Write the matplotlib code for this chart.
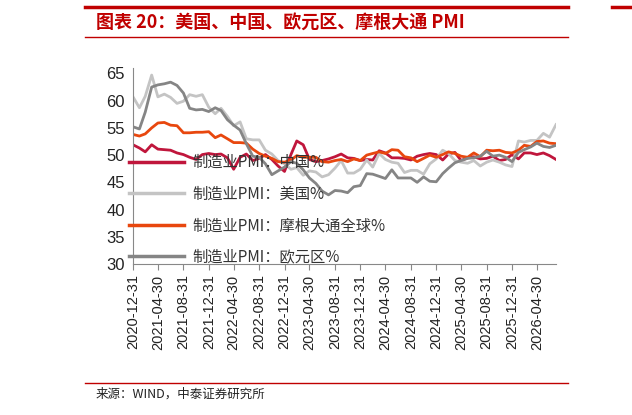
import matplotlib
matplotlib.use("Agg")
import matplotlib.pyplot as plt
from matplotlib.lines import Line2D
import pandas as pd

plt.rcParams['font.family'] = ['Noto Sans CJK SC', 'DejaVu Sans']

months = pd.date_range("2020-12-31", periods=68, freq="ME")

china = [51.9, 51.3, 50.6, 51.9, 51.1, 51.0, 50.9, 50.4, 50.1, 49.6, 49.2, 50.1,
         50.3, 50.1, 50.2, 49.5, 47.4, 49.6, 50.2, 49.0, 49.4, 50.1, 49.2, 48.0,
         47.0, 50.1, 52.6, 51.9, 49.2, 48.8, 49.0, 49.3, 49.7, 50.2, 49.5, 49.4,
         49.0, 49.2, 49.1, 50.8, 50.4, 49.5, 49.5, 49.4, 49.1, 49.8, 50.1, 50.3,
         50.1, 49.1, 50.2, 50.5, 49.0, 49.5, 49.7, 49.3, 49.4, 49.8, 49.0, 49.2,
         50.1, 49.3, 50.4, 50.4, 50.1, 50.4, 49.9, 49.2]
usa = [60.7, 58.7, 60.8, 64.7, 60.7, 61.2, 60.6, 59.5, 59.9, 61.1, 60.8, 61.1,
       58.8, 57.6, 58.6, 57.1, 55.4, 56.1, 53.0, 52.8, 52.8, 50.9, 50.2, 49.0,
       48.4, 47.4, 47.7, 46.3, 47.1, 46.9, 46.0, 46.4, 47.6, 49.0, 46.7, 46.7,
       47.4, 49.1, 47.8, 50.3, 49.2, 48.7, 48.5, 46.8, 47.2, 47.2, 46.5, 48.4,
       49.3, 50.9, 50.3, 49.0, 48.7, 48.5, 49.0, 48.0, 48.7, 49.1, 48.7, 48.2,
       47.9, 52.6, 52.4, 52.7, 52.7, 54.0, 53.3, 55.6]
jpm = [53.8, 53.5, 53.9, 55.0, 55.9, 56.0, 55.5, 55.4, 54.1, 54.1, 54.2, 54.2,
       54.3, 53.2, 53.7, 53.0, 52.3, 52.3, 52.2, 51.1, 50.3, 49.8, 49.4, 48.8,
       48.7, 49.1, 49.9, 49.6, 49.6, 49.6, 48.8, 48.7, 49.0, 49.2, 48.8, 49.3,
       49.0, 50.0, 50.3, 50.6, 50.3, 51.0, 50.9, 49.7, 49.5, 48.8, 49.4, 50.0,
       49.6, 50.1, 50.6, 50.3, 49.8, 49.6, 50.4, 49.7, 50.9, 50.8, 50.9, 50.5,
       50.4, 50.9, 51.8, 51.6, 52.5, 52.6, 52.2, 52.1]
euro = [55.2, 54.8, 57.9, 62.5, 62.9, 63.1, 63.4, 62.8, 61.4, 58.6, 58.3, 58.4,
        58.0, 58.7, 58.2, 56.5, 55.5, 54.6, 52.1, 49.8, 49.6, 48.4, 46.4, 47.1,
        47.8, 48.8, 48.5, 47.3, 45.8, 44.8, 43.4, 42.7, 43.5, 43.4, 43.1, 44.2,
        44.4, 46.6, 46.5, 46.1, 45.7, 47.3, 45.8, 45.8, 45.8, 45.0, 46.0, 45.2,
        45.1, 46.6, 47.6, 48.6, 49.0, 49.4, 49.5, 49.8, 50.7, 49.8, 50.0, 49.6,
        48.8, 50.5, 51.0, 51.5, 52.2, 51.6, 51.4, 51.8]

labels = ["制造业PMI：中国%", "制造业PMI：美国%", "制造业PMI：摩根大通全球%", "制造业PMI：欧元区%"]
colors = ["#c0163c", "#c4c4c4", "#e8470e", "#858585"]

fig = plt.figure(figsize=(6.32, 4.15), dpi=100)
ax = fig.add_axes([133 / 632, 1 - 264 / 415, 423 / 632, 196 / 415])

for vals, c in zip([china, usa, jpm, euro], colors):
    ax.plot(months, vals, color=c, lw=2)

ax.set_ylim(30, 66)
ax.set_yticks(range(30, 66, 5))
ax.set_xlim(months[0], months[-1])
ticks = months[::4]
ax.set_xticks(ticks)
ax.set_xticklabels([d.strftime("%Y-%m-%d") for d in ticks], rotation=90, fontsize=10.5,
                   family=['Liberation Sans'], color="#222222")
for t in ax.get_yticklabels():
    t.set_family(['Liberation Sans'])
ax.tick_params(axis='y', labelsize=12, length=0, colors="#222222", pad=6)
ax.tick_params(axis='x', length=4, color="#888888")
for s in ["top", "right"]:
    ax.spines[s].set_visible(False)
for s in ["left", "bottom"]:
    ax.spines[s].set_color("#888888")

handles = [Line2D([0], [0], color=c, lw=2.5) for c in colors]
ax.legend(handles, labels, loc="lower left", bbox_to_anchor=(-0.03, -0.055), frameon=False,
          fontsize=11, handlelength=3.6, handletextpad=0.5, labelspacing=0.95,
          borderaxespad=0.2, labelcolor="#333333")

# title and frame lines
red = "#c00000"
fig.add_artist(Line2D([85 / 632, 568 / 632], [1 - 7 / 415] * 2, color=red, lw=2.5))
fig.add_artist(Line2D([85 / 632, 568 / 632], [1 - 37 / 415] * 2, color=red, lw=1))
fig.add_artist(Line2D([612 / 632, 1], [1 - 7 / 415] * 2, color=red, lw=2.5))
fig.text(96 / 632, 1 - 22 / 415, "图表 20：美国、中国、欧元区、摩根大通 PMI", color=red,
         fontsize=13, fontweight="bold", style="italic", va="center")
fig.add_artist(Line2D([85 / 632, 568 / 632], [1 - 383 / 415] * 2, color=red, lw=1))
fig.text(96 / 632, 1 - 394 / 415, "来源：WIND，中泰证券研究所", fontsize=9, va="center",
         color="#222222")

fig.savefig("out.png", dpi=100)
